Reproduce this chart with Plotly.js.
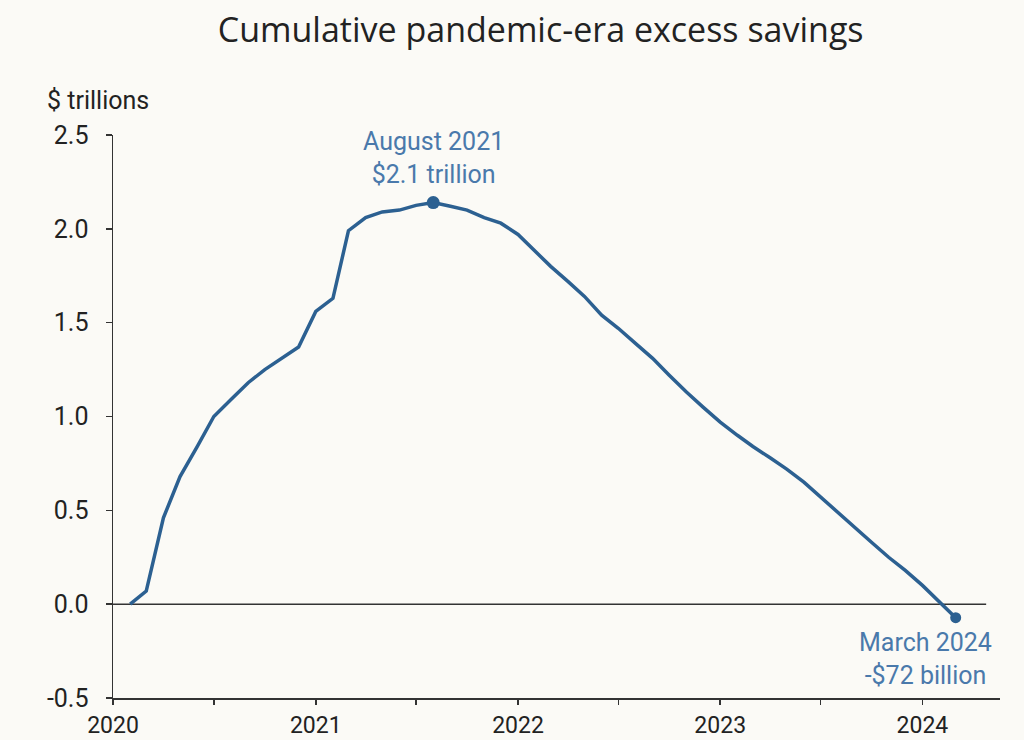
<!DOCTYPE html>
<html>
<head>
<meta charset="utf-8">
<script src="https://cdn.plot.ly/plotly-3.0.1.min.js"></script>
<style>
  html, body { margin: 0; padding: 0; background: #fbfaf6; }
  #chart { width: 1024px; height: 740px; }
</style>
</head>
<body>
<div id="chart"></div>
<script>
// Monthly dates (first of month) and cumulative excess savings, $ trillions
const months = [
  '2020-02-01','2020-03-01','2020-04-01','2020-05-01','2020-06-01','2020-07-01',
  '2020-08-01','2020-09-01','2020-10-01','2020-11-01','2020-12-01',
  '2021-01-01','2021-02-01','2021-03-01','2021-04-01','2021-05-01','2021-06-01',
  '2021-07-01','2021-08-01','2021-09-01','2021-10-01','2021-11-01','2021-12-01',
  '2022-01-01','2022-02-01','2022-03-01','2022-04-01','2022-05-01','2022-06-01',
  '2022-07-01','2022-08-01','2022-09-01','2022-10-01','2022-11-01','2022-12-01',
  '2023-01-01','2023-02-01','2023-03-01','2023-04-01','2023-05-01','2023-06-01',
  '2023-07-01','2023-08-01','2023-09-01','2023-10-01','2023-11-01','2023-12-01',
  '2024-01-01','2024-02-01','2024-03-01'
];
const savings = [
  0.00, 0.07, 0.46, 0.68, 0.84, 1.00,
  1.09, 1.18, 1.25, 1.31, 1.37,
  1.56, 1.63, 1.99, 2.06, 2.09, 2.10,
  2.125, 2.14, 2.12, 2.10, 2.06, 2.03,
  1.97, 1.88, 1.80, 1.72, 1.64, 1.54,
  1.47, 1.39, 1.31, 1.22, 1.13, 1.05,
  0.97, 0.90, 0.84, 0.78, 0.72, 0.65,
  0.57, 0.49, 0.41, 0.33, 0.25, 0.18,
  0.10, 0.01, -0.072
];
// Highlighted points
const highlightDates = ['2021-08-01', '2024-03-01'];
const highlightValues = [2.14, -0.072];
const highlightLabels = ['August 2021<br>$2.1 trillion', 'March 2024<br>-$72 billion'];

const yTickVals = [-0.5, 0.0, 0.5, 1.0, 1.5, 2.0, 2.5];
const yTickText = ['-0.5', '0.0', '0.5', '1.0', '1.5', '2.0', '2.5'];
const xTickVals = ['2020-01-01','2021-01-01','2022-01-01','2023-01-01','2024-01-01'];
const xTickText = ['2020','2021','2022','2023','2024'];

const lineColor = '#2c6091';
const annColor = '#4a79ab';

const traces = [
  {
    x: months, y: savings, type: 'scatter', mode: 'lines',
    line: { color: lineColor, width: 3.5 },
    hoverinfo: 'x+y', showlegend: false
  },
  {
    x: highlightDates, y: highlightValues, type: 'scatter', mode: 'markers',
    marker: { color: lineColor, size: [13, 11], opacity: 1, line: { width: 0 } },
    showlegend: false
  }
];

const layout = {
  width: 1024, height: 740,
  paper_bgcolor: '#fbfaf6', plot_bgcolor: '#fbfaf6',
  margin: { l: 113, r: 24, t: 135, b: 42 },
  font: { family: 'Roboto, sans-serif', color: '#222', size: 26 },
  title: {
    text: 'Cumulative pandemic-era excess savings',
    font: { family: '"Open Sans", "Noto Sans", sans-serif', size: 34, color: '#222' },
    x: 0.528, xanchor: 'center', xref: 'container',
    y: 0.975, yanchor: 'top', yref: 'container'
  },
  xaxis: {
    type: 'date',
    range: ['2020-01-01', '2024-05-20'],
    tickvals: xTickVals, ticktext: xTickText,
    ticks: 'outside', ticklen: 5, tickwidth: 1.5, tickcolor: '#333',
    minor: { dtick: 'M6', tick0: '2020-01-01', ticks: 'outside', ticklen: 5, tickwidth: 1.5, tickcolor: '#333', showgrid: false },
    showline: true, linecolor: '#333', linewidth: 2,
    showgrid: false, zeroline: false,
    ticklabelstandoff: 0,
    tickfont: { family: 'Roboto, sans-serif', size: 23, color: '#222' },
    fixedrange: true
  },
  yaxis: {
    range: [-0.5, 2.5],
    tickvals: yTickVals, ticktext: yTickText,
    ticks: 'outside', ticklen: 6, tickwidth: 1.5, tickcolor: '#333',
    showline: true, linecolor: '#333', linewidth: 1.5,
    showgrid: false, zeroline: false,
    ticklabelstandoff: 12,
    tickfont: { family: 'Roboto, sans-serif', size: 25, color: '#222' },
    fixedrange: true
  },
  shapes: [
    { type: 'line', xref: 'x', yref: 'y', x0: '2020-01-01', x1: '2024-04-25', y0: 0, y1: 0,
      line: { color: '#333', width: 1.5 }, layer: 'below' }
  ],
  annotations: [
    { text: '$ trillions', xref: 'paper', yref: 'paper', x: -0.077, y: 1.062,
      xanchor: 'left', yanchor: 'middle', showarrow: false,
      font: { family: 'Roboto, sans-serif', size: 25, color: '#222' } },
    { text: highlightLabels[0], xref: 'x', yref: 'y', x: highlightDates[0], y: highlightValues[0],
      xanchor: 'center', yanchor: 'bottom', yshift: 12, showarrow: false, align: 'center',
      font: { family: 'Roboto, sans-serif', size: 25, color: annColor } },
    { text: highlightLabels[1], xref: 'x', yref: 'y', x: highlightDates[1], y: highlightValues[1],
      xanchor: 'center', yanchor: 'top', xshift: -30, yshift: -8, showarrow: false, align: 'center',
      font: { family: 'Roboto, sans-serif', size: 25, color: annColor } }
  ]
};

Plotly.newPlot('chart', traces, layout, { staticPlot: true, displayModeBar: false });
</script>
</body>
</html>
